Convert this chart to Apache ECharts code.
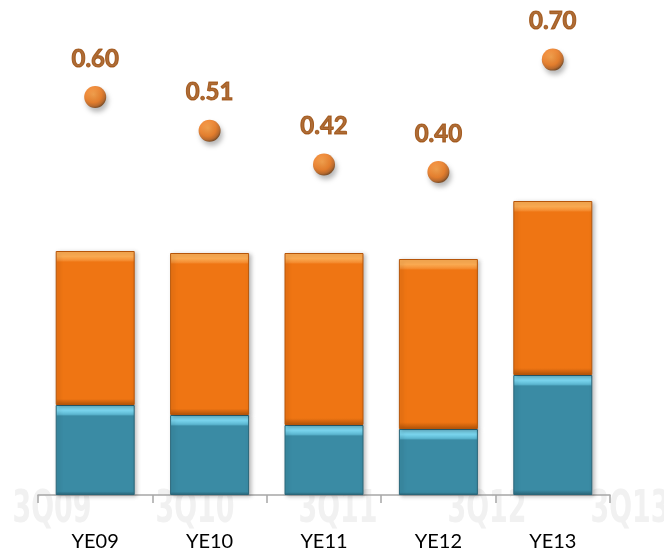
<!DOCTYPE html>
<html>
<head>
<meta charset="utf-8">
<script src="https://cdn.jsdelivr.net/npm/echarts@6/dist/echarts.min.js"></script>
<style>
html,body{margin:0;padding:0;background:#fff;}
#chart{width:664px;height:552px;}
</style>
</head>
<body>
<div id="chart"></div>
<script>
// ---- data ----
const categories = ['YE09', 'YE10', 'YE11', 'YE12', 'YE13'];
const tealValues = [90, 80, 70, 66, 120];
const orangeValues = [154, 162, 172, 170, 174];
const ratioValues = [0.60, 0.51, 0.42, 0.40, 0.70];
const watermarkLabels = ['3Q09', '3Q10', '3Q11', '3Q12', '3Q13'];

const chart = echarts.init(document.getElementById('chart'));

function bevelItem(value, light, mid, main, dark) {
  const f = Math.min(0.4, 11 / Math.max(value, 1));
  return {
    value: value,
    itemStyle: {
      color: new echarts.graphic.LinearGradient(0, 0, 0, 1, [
        { offset: 0, color: light },
        { offset: f * 0.5, color: light },
        { offset: f * 0.85, color: mid },
        { offset: f, color: main },
        { offset: 0.96, color: main },
        { offset: 1, color: dark }
      ]),
      borderColor: dark,
      borderWidth: 1,
      shadowColor: 'rgba(0,0,0,0.25)',
      shadowBlur: 4,
      shadowOffsetX: 2,
      shadowOffsetY: 1
    }
  };
}

const wmX = [52, 195, 338, 487, 630];

chart.setOption({
  animation: false,
  backgroundColor: '#ffffff',
  grid: { left: 38, right: 54, top: 20, bottom: 57 },
  graphic: watermarkLabels.map((t, i) => ({
    type: 'text',
    z: -10,
    silent: true,
    x: wmX[i],
    y: 511,
    scaleX: 0.68,
    style: {
      text: t,
      fill: '#f1f1f1',
      font: 'bold 44px "DejaVu Sans Condensed", sans-serif',
      align: 'center',
      verticalAlign: 'middle'
    }
  })),
  xAxis: {
    type: 'category',
    data: categories,
    axisLine: { show: true, lineStyle: { color: '#a6a6a6', width: 1.5 } },
    axisTick: { show: true, length: 8, lineStyle: { color: '#a6a6a6', width: 1.5 } },
    axisLabel: { margin: 37, color: '#000', fontSize: 20, fontFamily: 'Lato' }
  },
  yAxis: [
    { type: 'value', min: 0, max: 475, show: false, splitLine: { show: false } },
    { type: 'value', min: -0.4629, max: 0.8058, show: false, splitLine: { show: false } }
  ],
  series: [
    {
      name: 'teal',
      type: 'bar',
      stack: 'a',
      barWidth: 79,
      data: tealValues.map(v => bevelItem(v, '#7ad6ef', '#5bb6d0', '#3a8ba4', '#2a6679'))
    },
    {
      name: 'orange',
      type: 'bar',
      stack: 'a',
      barWidth: 79,
      data: orangeValues.map(v => bevelItem(v, '#fbab52', '#f58e32', '#ef7513', '#b65509'))
    },
    {
      name: 'ratio',
      type: 'scatter',
      yAxisIndex: 1,
      symbolSize: 22,
      data: ratioValues,
      itemStyle: {
        color: new echarts.graphic.RadialGradient(0.42, 0.38, 0.62, [
          { offset: 0, color: '#f99530' },
          { offset: 0.6, color: '#ec6e0a' },
          { offset: 0.85, color: '#b9560a' },
          { offset: 1, color: '#6e3404' }
        ]),
        shadowColor: 'rgba(0,0,0,0.35)',
        shadowBlur: 5,
        shadowOffsetX: 2,
        shadowOffsetY: 4
      },
      label: {
        show: true,
        position: 'top',
        distance: 15,
        formatter: p => p.value.toFixed(2),
        color: '#9a4806',
        textBorderColor: '#9a4806',
        textBorderWidth: 1,
        fontSize: 24,
        fontWeight: 'bold',
        fontFamily: 'Lato'
      }
    }
  ]
});
</script>
</body>
</html>
